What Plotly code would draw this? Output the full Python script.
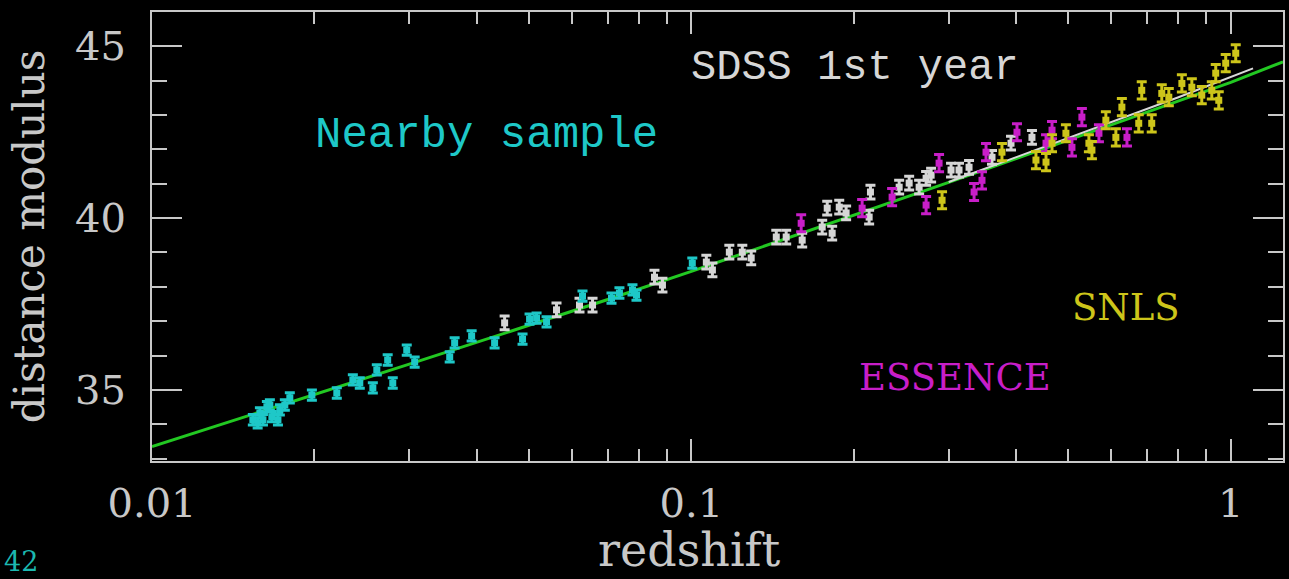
import plotly.graph_objects as go

# Nearby sample (cyan)
nearby_z = [0.01538, 0.0157, 0.01585, 0.01606, 0.01633, 0.01654, 0.01668, 0.01712, 0.01726,
            0.01763, 0.01801, 0.01979, 0.02201, 0.02357, 0.02428, 0.02567, 0.02611, 0.02735,
            0.02795, 0.02967, 0.03069, 0.03564, 0.0364, 0.03914, 0.04317, 0.04864, 0.05012,
            0.05164, 0.05389, 0.06283, 0.07111, 0.07356, 0.07777, 0.07911, 0.1004]
nearby_mu = [34.13, 34.04, 34.33, 34.13, 34.51, 34.56, 34.22, 34.13, 34.42,
             34.56, 34.77, 34.85, 34.91, 35.29, 35.20, 35.06, 35.58, 35.87,
             35.20, 36.16, 35.81, 35.96, 36.37, 36.57, 36.37, 36.48, 37.06,
             37.09, 36.98, 37.73, 37.67, 37.82, 37.91, 37.76, 38.69]

# SDSS first-year sample (white)
sdss_z = [0.04506, 0.05623, 0.06203, 0.06558, 0.08543, 0.08839, 0.1066, 0.1094, 0.1176,
          0.1243, 0.1291, 0.1437, 0.1499, 0.1605, 0.1748, 0.1824, 0.1786, 0.1880, 0.1936,
          0.2136, 0.2148, 0.2428, 0.2534, 0.2644, 0.2724, 0.2783, 0.3030, 0.3135, 0.3272,
          0.3609, 0.3914, 0.4280]
sdss_mu = [36.95, 37.33, 37.47, 37.47, 38.28, 38.05, 38.72, 38.49, 39.01,
           39.01, 38.84, 39.45, 39.45, 39.36, 39.74, 39.56, 40.29, 40.32, 40.15,
           40.03, 40.76, 40.90, 41.02, 40.90, 41.16, 41.25, 41.40, 41.40, 41.48,
           41.77, 42.18, 42.35]

# ESSENCE (magenta)
essence_z = [0.1598, 0.2073, 0.2356, 0.2724, 0.2879, 0.3343, 0.3458, 0.3518, 0.4015,
             0.4545, 0.4663, 0.5077, 0.5297, 0.5697, 0.6421]
essence_mu = [39.85, 40.29, 40.61, 40.38, 41.60, 40.76, 41.10, 41.92, 42.50,
              42.18, 42.56, 42.06, 42.94, 42.47, 42.35]

# SNLS (yellow)
snls_z = [0.2916, 0.3766, 0.4354, 0.4545, 0.4663, 0.4948, 0.5458, 0.5529, 0.5868, 0.6124,
          0.6283, 0.6752, 0.6839, 0.7137, 0.7450, 0.7677, 0.8117, 0.8470, 0.8837, 0.9223,
          0.9380, 0.9502, 0.9788, 1.0216]
snls_mu = [40.52, 41.92, 41.69, 41.63, 42.18, 42.47, 42.18, 41.98, 42.85, 42.35,
           43.23, 42.76, 43.72, 42.76, 43.63, 43.52, 43.92, 43.81, 43.58, 43.72,
           44.22, 43.43, 44.51, 44.80]

# Best-fit cosmology curve (green) and alternative curve (white)
model_z = [0.01, 0.02, 0.03, 0.05, 0.07, 0.1, 0.15, 0.2, 0.3, 0.4, 0.5, 0.6, 0.7, 0.8, 0.9, 1.0, 1.25]
model_mu = [33.35, 34.86, 35.75, 36.88, 37.63, 38.45, 39.40, 40.08, 41.04, 41.73, 42.27,
            42.71, 43.08, 43.40, 43.69, 43.95, 44.55]
alt_z = [0.3, 0.4, 0.5, 0.6, 0.7, 0.8, 0.9, 1.0, 1.1]
alt_mu = [41.05, 41.77, 42.33, 42.79, 43.18, 43.52, 43.83, 44.11, 44.36]

x_ticks = [0.01, 0.1, 1]
x_tick_labels = ["0.01", "0.1", "1"]
x_minor = [m * d for d in (0.01, 0.1) for m in range(2, 10)]
y_ticks = [35, 40, 45]

AXIS_COLOR = "#c8c8c8"
SERIF = "DejaVu Serif"
MONO = "Liberation Mono"

fig = go.Figure()

fig.add_trace(go.Scatter(x=model_z, y=model_mu, mode="lines",
                         line=dict(color="#22c822", width=3), hoverinfo="skip"))
fig.add_trace(go.Scatter(x=alt_z, y=alt_mu, mode="lines",
                         line=dict(color="#d8d8d8", width=2), hoverinfo="skip"))

def add_sample(z, mu, color, err):
    fig.add_trace(go.Scatter(
        x=z, y=mu, mode="markers",
        marker=dict(symbol="square", size=7, color=color, line=dict(width=0)),
        error_y=dict(type="constant", value=err, color=color, thickness=3, width=5),
    ))

add_sample(sdss_z, sdss_mu, "#d6d6d6", 0.2)
add_sample(nearby_z, nearby_mu, "#1ec8c8", 0.15)
add_sample(essence_z, essence_mu, "#c81ec8", 0.25)
add_sample(snls_z, snls_mu, "#cdc51a", 0.25)

axis_common = dict(
    showline=True, linecolor=AXIS_COLOR, linewidth=2, mirror="ticks",
    ticks="inside", tickcolor=AXIS_COLOR, tickwidth=2,
    showgrid=False, zeroline=False,
    tickfont=dict(family=SERIF, size=40, color=AXIS_COLOR),
)

fig.update_xaxes(
    type="log", range=[-2, 0.0969],
    tickvals=x_ticks, ticktext=x_tick_labels, ticklen=22,
    ticklabelstandoff=6,
    minor=dict(tickvals=x_minor, ticks="inside", ticklen=12,
               tickcolor=AXIS_COLOR, tickwidth=2, showgrid=False),
    **axis_common,
)
fig.update_yaxes(
    range=[32.93, 46.0], tickvals=y_ticks, ticklen=30,
    ticklabelstandoff=16,
    minor=dict(dtick=1, ticks="inside", ticklen=15,
               tickcolor=AXIS_COLOR, tickwidth=2, showgrid=False),
    **axis_common,
)

annotations = [
    dict(text="distance modulus", x=-0.108, y=0.5, textangle=-90,
         font=dict(family=SERIF, size=42, color=AXIS_COLOR)),
    dict(text="redshift", x=0.475, y=-0.198,
         font=dict(family=SERIF, size=46, color=AXIS_COLOR)),
    dict(text="SDSS 1st year", x=0.622, y=0.875,
         font=dict(family=MONO, size=42, color="#d6d6d6")),
    dict(text="Nearby sample", x=0.296, y=0.726,
         font=dict(family=MONO, size=44, color="#1ec8c8")),
    dict(text="ESSENCE", x=0.710, y=0.185,
         font=dict(family=SERIF, size=37, color="#c81ec8")),
    dict(text="SNLS", x=0.861, y=0.341,
         font=dict(family=SERIF, size=37, color="#cdc51a")),
    dict(text="42", x=-0.1324, y=-0.2628, xanchor="left", yanchor="bottom",
         font=dict(family=SERIF, size=27, color="#1cb8b0")),
]
for a in annotations:
    a.setdefault("xanchor", "center")
    a.setdefault("yanchor", "middle")
    fig.add_annotation(xref="paper", yref="paper", showarrow=False, **a)

fig.update_layout(
    width=1289, height=579,
    margin=dict(l=152, r=4, t=12, b=118),
    paper_bgcolor="black", plot_bgcolor="black",
    showlegend=False,
)

fig.write_html("out.html")
